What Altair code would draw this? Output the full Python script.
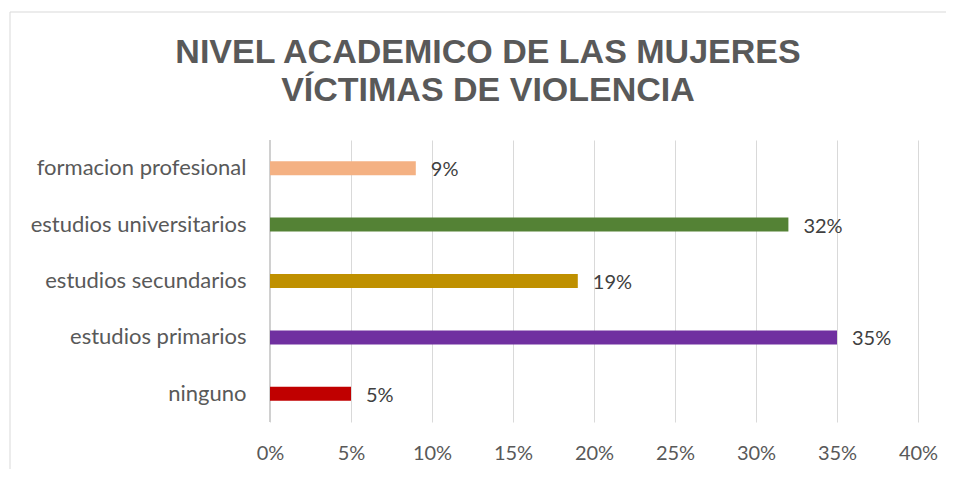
import altair as alt
import pandas as pd

categories = ["formacion profesional", "estudios universitarios", "estudios secundarios",
              "estudios primarios", "ninguno"]
values = [0.09, 0.32, 0.19, 0.35, 0.05]
colors = ["#F4B183", "#548235", "#BF9000", "#7030A0", "#C00000"]
labels = ["9%", "32%", "19%", "35%", "5%"]
title_lines = ["NIVEL ACADEMICO DE LAS MUJERES", "VÍCTIMAS DE VIOLENCIA"]

df = pd.DataFrame({"cat": categories, "val": values, "label": labels})

W, H = 648, 282
FONT = "Lato"
GRAY = "#595959"

y_enc = alt.Y("cat:N", sort=categories, title=None,
              axis=alt.Axis(labelFont=FONT, labelFontSize=22, labelColor=GRAY, labelLimit=0,
                            labelPadding=24, ticks=False, domain=False, grid=False))
x_enc = alt.X("val:Q", title=None,
              scale=alt.Scale(domain=[0, 0.4], nice=False, zero=True),
              axis=alt.Axis(format="%", values=[0, 0.05, 0.1, 0.15, 0.2, 0.25, 0.3, 0.35, 0.4],
                            labelFont=FONT, labelFontSize=20, labelColor=GRAY, labelFlush=False,
                            labelPadding=21, ticks=False, domain=False,
                            grid=True, gridColor="#d9d9d9", gridWidth=1))

bars = alt.Chart(df).mark_bar(size=14).encode(
    x=x_enc, y=y_enc,
    color=alt.Color("cat:N", scale=alt.Scale(domain=categories, range=colors), legend=None),
)

text = alt.Chart(df).mark_text(align="left", baseline="middle", dx=15, dy=2,
                               font=FONT, fontSize=20, color="#404040").encode(
    x="val:Q", y=alt.Y("cat:N", sort=categories), text="label:N"
)

zero = alt.Chart(pd.DataFrame({"z": [0]})).mark_rule(color="#d0d0d0", strokeWidth=2).encode(
    x="z:Q"
)

border_left = alt.Chart(pd.DataFrame({"a": [0]})).mark_rule(color="#d9d9d9", strokeWidth=1).encode(
    x=alt.value(-260), y=alt.value(-128), y2=alt.value(337)
)
border_top = alt.Chart(pd.DataFrame({"a": [0]})).mark_rule(color="#d9d9d9", strokeWidth=1).encode(
    x=alt.value(-260), x2=alt.value(684), y=alt.value(-128)
)

chart = alt.layer(zero, bars, text, border_left, border_top).properties(
    width=W, height=H,
    autosize=alt.AutoSizeParams(type="none"),
    padding={"left": 262, "top": 132, "right": 28, "bottom": 47},
    title=alt.TitleParams(title_lines, font="Liberation Sans", fontSize=34, fontWeight="bold",
                          color=GRAY, lineHeight=38, anchor="middle", dx=-106, offset=-96),
).configure_view(stroke=None)

chart.save("out.html", embed_options={"renderer": "svg", "actions": False})
